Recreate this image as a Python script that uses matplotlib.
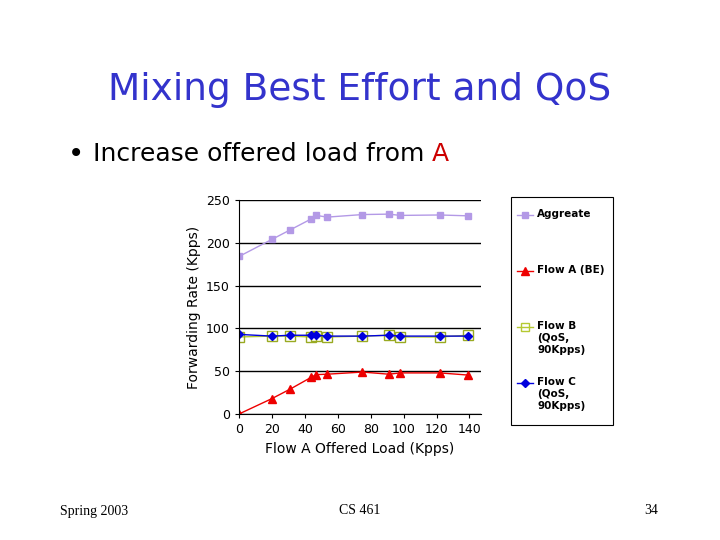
import matplotlib
matplotlib.use("Agg")
import matplotlib.pyplot as plt
from matplotlib.lines import Line2D
from matplotlib.patches import Rectangle

load = [0, 20, 31, 44, 47, 53.5, 75, 91, 98, 122, 139]
aggregate = [184, 204, 215, 228, 232, 230, 233, 233.5, 232, 232.5, 231.5]
flow_a = [0, 18, 29, 43, 46, 46.5, 49, 46.5, 48, 48, 45.5]
flow_b = [90, 91, 91, 90, 91, 90, 91, 92, 90, 90, 92]
flow_c = [93, 91, 92, 92, 92, 91, 91, 92, 91, 91, 91]

series_colors = ["#B399E6", "#EE0000", "#B5C932", "#0000DD"]
legend_labels = ["Aggreate", "Flow A (BE)", "Flow B\n(QoS,\n90Kpps)", "Flow C\n(QoS,\n90Kpps)"]

W, H = 720, 540
fig = plt.figure(figsize=(7.2, 5.4), dpi=100)
fig.patch.set_facecolor("white")

fig.text(360 / W, 1 - 90 / H, "Mixing Best Effort and QoS", ha="center", va="center",
         color="#3333CC", fontsize=27, family="DejaVu Sans")
fig.text(68 / W, 1 - 154 / H, "\u2022", ha="left", va="center", fontsize=20)
fig.text(93 / W, 1 - 154 / H, "Increase offered load from ", ha="left", va="center", fontsize=18)
fig.text(432 / W, 1 - 154 / H, "A", ha="left", va="center", fontsize=18, color="#CC0000")

fig.text(60 / W, 1 - 511 / H, "Spring 2003", family="Liberation Serif", fontsize=10, va="center")
fig.text(360 / W, 1 - 511 / H, "CS 461", family="Liberation Serif", fontsize=10, va="center", ha="center")
fig.text(658 / W, 1 - 511 / H, "34", family="Liberation Serif", fontsize=10, va="center", ha="right")

ax = fig.add_axes([239 / W, 1 - 414 / H, (481 - 239) / W, (414 - 200) / H])
ax.plot(load, aggregate, color=series_colors[0], marker="s", ms=5, lw=1)
ax.plot(load, flow_a, color=series_colors[1], marker="^", ms=6, lw=1)
ax.plot(load, flow_b, color=series_colors[2], marker="s", ms=7, mfc="none", mec="#99AA22", lw=1)
ax.plot(load, flow_c, color=series_colors[3], marker="D", ms=4.5, lw=1)
ax.set_xlim(0, 147)
ax.set_ylim(0, 250)
ax.set_xticks(range(0, 141, 20))
ax.set_yticks(range(0, 251, 50))
ax.yaxis.grid(True, color="black", lw=1)
ax.set_axisbelow(True)
for s in ["top", "right"]:
    ax.spines[s].set_visible(False)
ax.tick_params(labelsize=9, length=3)
ax.set_xlabel("Flow A Offered Load (Kpps)", fontsize=10)
ax.set_ylabel("Forwarding Rate (Kpps)", fontsize=10)

# legend box drawn by hand so the handles sit on the first label line
fig.patches.append(Rectangle((511 / W, 1 - 425 / H), 102 / W, 228 / H, transform=fig.transFigure,
                             fill=False, edgecolor="black", lw=0.8))
markers = [dict(marker="s", ms=5), dict(marker="^", ms=6),
           dict(marker="s", ms=6, mfc="none"), dict(marker="D", ms=4.5)]
rows = [215, 271, 327, 383]
for color, mk, label, y in zip(series_colors, markers, legend_labels, rows):
    yf = 1 - y / H
    fig.lines.append(Line2D([517 / W, 533 / W], [yf, yf], transform=fig.transFigure,
                            color=color, lw=1, markevery=[1], **mk))
    fig.lines[-1].set_data([517 / W, 525 / W, 533 / W], [yf, yf, yf])
    fig.text(537 / W, yf, label, fontsize=7.5, fontweight="bold", va="top", ha="left",
             linespacing=1.25, transform=fig.transFigure).set_y(yf + 6 / H)

fig.savefig("out.png", dpi=100)
